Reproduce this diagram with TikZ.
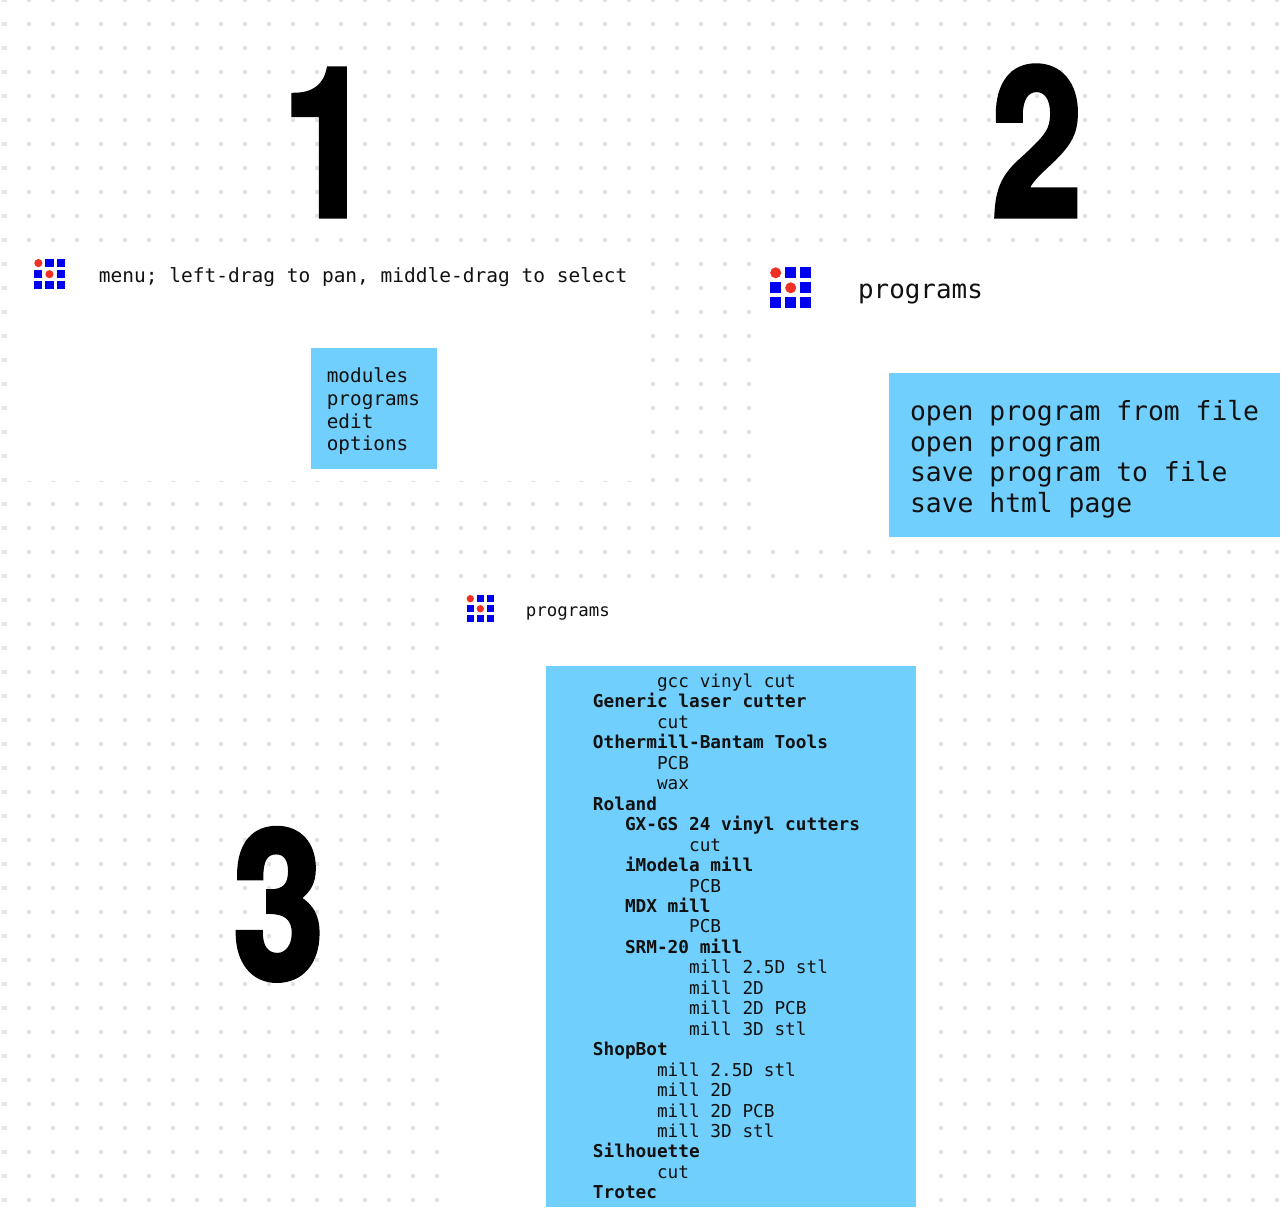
\documentclass[tikz,border=0pt]{standalone}
\usepackage{fontspec}
\setmainfont{DejaVu Sans Mono}
\newfontfamily\numfont[FakeStretch=0.78,FakeBold=2.5]{TeX Gyre Heros Bold}
\definecolor{dotgrey}{RGB}{226, 228, 235}
\definecolor{menublue}{RGB}{112, 207, 252}
\definecolor{iconblue}{RGB}{0, 0, 240}
\definecolor{iconred}{RGB}{238, 49, 36}
\definecolor{ink}{RGB}{17, 17, 17}
\newcommand{\subin}{\hspace*{1.806em}}
\newcommand{\itemin}{\hspace*{3.612em}}
\newcommand{\subitemin}{\hspace*{5.418em}}
\tikzset{
  menutext/.style={inner sep=0, anchor=north west, align=left, text=ink},
  bigdigit/.style={inner sep=0, anchor=base, text=black, font=\numfont\fontsize{118}{118}\selectfont},
  menuicon/.pic={
    \foreach \i in {0,1,2} \foreach \j in {0,1,2}
      \fill[iconblue] (15*\i,15*\j) rectangle +(11,11);
    \fill[white] (-1,-1) rectangle (12,12);
    \fill[white] (14,14) rectangle (27,27);
    \fill[iconred] (5.5,5.5) circle (5.5);
    \fill[iconred] (20.5,20.5) circle (5.5);
  }
}
\begin{document}
\begin{tikzpicture}[x=0.02cm, y=-0.02cm]
  \useasboundingbox (0,0) rectangle (1288,1220);
  \fill[white] (0,0) rectangle (1288,1220);
  % dotted page
  \foreach \i in {0,...,53} \foreach \j in {0,...,50}
    \fill[dotgrey] (2.5+24*\i,-2+24*\j) rectangle +(4,4);
  % white screenshots
  \fill[white] (16,250) rectangle (640,481);
  \fill[white] (758,250) rectangle (1288,540);
  \fill[white] (448,590) rectangle (928,1220);

  \node[bigdigit] (one) at (328,216) {1};
  \node[bigdigit] (two) at (1037,216) {2};
  \node[bigdigit] (three) at (278.5,978.5) {3};

  % first step
  \pic[scale=0.74] at (34.3,259) {menuicon};
  \node[menutext, font=\fontsize{11.1}{12.9}\selectfont] (hint) at (98.6,267) {menu; left-drag to pan, middle-drag to select};
  \fill[menublue] (310.6,347.6) rectangle (436.6,468.6);
  \node[menutext, font=\fontsize{11}{12.92}\selectfont] (mainmenu) at (326.5,367.5) {modules\\programs\\edit\\options};

  % second step
  \pic at (770.2,267.3) {menuicon};
  \node[menutext, font=\fontsize{14.75}{17}\selectfont] (progtitle) at (857.7,284) {programs};
  \fill[menublue] (888.5,373.2) rectangle (1280,537.2);
  \node[menutext, font=\fontsize{15}{17.4}\selectfont] (progmenu) at (909.7,400) {open program from file\\open program\\save program to file\\save html page};

  % third step
  \pic[scale=0.67] at (466.6,595) {menuicon};
  \node[menutext, font=\fontsize{9.92}{11.5}\selectfont] (machtitle) at (525.6,606) {programs};
  \fill[menublue] (546,666) rectangle (916,1207);
  \node[menutext, font=\fontsize{10.1}{11.64}\selectfont] (machmenu) at (592.6,673.6) {
    \itemin gcc vinyl cut\\
    \textbf{Generic laser cutter}\\
    \itemin cut\\
    \textbf{Othermill-Bantam Tools}\\
    \itemin PCB\\
    \itemin wax\\
    \textbf{Roland}\\
    \subin\textbf{GX-GS 24 vinyl cutters}\\
    \subitemin cut\\
    \subin\textbf{iModela mill}\\
    \subitemin PCB\\
    \subin\textbf{MDX mill}\\
    \subitemin PCB\\
    \subin\textbf{SRM-20 mill}\\
    \subitemin mill 2.5D stl\\
    \subitemin mill 2D\\
    \subitemin mill 2D PCB\\
    \subitemin mill 3D stl\\
    \textbf{ShopBot}\\
    \itemin mill 2.5D stl\\
    \itemin mill 2D\\
    \itemin mill 2D PCB\\
    \itemin mill 3D stl\\
    \textbf{Silhouette}\\
    \itemin cut\\
    \textbf{Trotec}};
\end{tikzpicture}
\end{document}
